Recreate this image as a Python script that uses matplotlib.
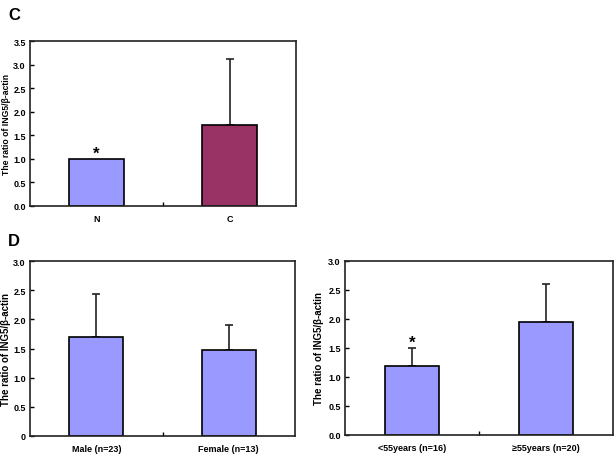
import matplotlib
matplotlib.use("Agg")
import matplotlib.pyplot as plt

plt.rcParams['font.family'] = ['Liberation Sans', 'DejaVu Sans']
plt.rcParams['font.weight'] = 'bold'

# Panel C
c_categories = ["N", "C"]
c_values = [1.0, 1.72]
c_err = [0.0, 1.40]
c_colors = ["#9999FF", "#993366"]
c_yticks = [0.0, 0.5, 1.0, 1.5, 2.0, 2.5, 3.0, 3.5]
c_yticklabels = ["0.0", "0.5", "1.0", "1.5", "2.0", "2.5", "3.0", "3.5"]

# Panel D left (sex)
d1_categories = ["Male (n=23)", "Female (n=13)"]
d1_values = [1.70, 1.48]
d1_err = [0.74, 0.42]
d1_yticks = [0.0, 0.5, 1.0, 1.5, 2.0, 2.5, 3.0]
d1_yticklabels = ["0", "0.5", "1.0", "1.5", "2.0", "2.5", "3.0"]

# Panel D right (age)
d2_categories = ["<55years (n=16)", "\u226555years (n=20)"]
d2_values = [1.19, 1.95]
d2_err = [0.31, 0.65]
d2_yticks = [0.0, 0.5, 1.0, 1.5, 2.0, 2.5, 3.0]
d2_yticklabels = ["0.0", "0.5", "1.0", "1.5", "2.0", "2.5", "3.0"]

ylabel = "The ratio of ING5/\u03b2-actin"

W, H = 616, 456
fig = plt.figure(figsize=(W / 100, H / 100), dpi=100)


def ax_rect(x0, y0, x1, y1):
    return [x0 / W, 1 - y1 / H, (x1 - x0) / W, (y1 - y0) / H]


def draw(ax, cats, vals, errs, colors, yticks, yticklabels, ymax, label_x, label_size,
         star_idx=None, star_y=None):
    x = list(range(len(cats)))
    ax.bar(x, vals, width=0.41, color=colors, edgecolor="black", linewidth=1.2, zorder=2)
    for xi, v, e in zip(x, vals, errs):
        if e > 0:
            ax.errorbar([xi], [v], yerr=[[0], [e]], fmt="none", ecolor="#222222",
                        elinewidth=1.2, capsize=3, capthick=1.2, zorder=1)
    ax.set_xlim(-0.5, 1.5)
    ax.set_ylim(0, ymax)
    ax.set_xticks(x)
    ax.set_xticklabels(cats, fontsize=6.5, fontweight="bold")
    ax.tick_params(axis="x", length=0, pad=6)
    ax.set_xticks([0.5], minor=True)
    ax.tick_params(axis="x", which="minor", direction="in", length=3, width=1)
    ax.set_yticks(yticks)
    ax.set_yticklabels(yticklabels, fontsize=6.5, fontweight="bold")
    ax.tick_params(axis="y", direction="in", length=3, width=1, pad=3)
    ax.set_ylabel(ylabel, fontsize=label_size, fontweight="bold", va="center")
    ax.yaxis.set_label_coords(label_x, 0.5)
    for s in ax.spines.values():
        s.set_linewidth(1.2)
        s.set_color("#222222")
    if star_idx is not None:
        ax.text(star_idx, star_y, "*", ha="center", va="center", fontsize=12, fontweight="bold")


axC = fig.add_axes(ax_rect(30, 42, 296, 207))
draw(axC, c_categories, c_values, c_err, c_colors, c_yticks, c_yticklabels, 3.5,
     label_x=(7 - 30) / 266, label_size=6.2, star_idx=0, star_y=1.12)

axD1 = fig.add_axes(ax_rect(30, 262, 295, 437))
draw(axD1, d1_categories, d1_values, d1_err, ["#9999FF"] * 2, d1_yticks, d1_yticklabels, 3.0,
     label_x=(6 - 30) / 265, label_size=7)

axD2 = fig.add_axes(ax_rect(345, 262, 613, 436))
draw(axD2, d2_categories, d2_values, d2_err, ["#9999FF"] * 2, d2_yticks, d2_yticklabels, 3.0,
     label_x=(319 - 345) / 268, label_size=7, star_idx=0, star_y=1.60)

fig.text(8 / W, 1 - 15 / H, "C", fontsize=12, fontweight="bold", va="center", ha="left")
fig.text(8 / W, 1 - 242 / H, "D", fontsize=12, fontweight="bold", va="center", ha="left")

fig.savefig("out.png", dpi=100)
